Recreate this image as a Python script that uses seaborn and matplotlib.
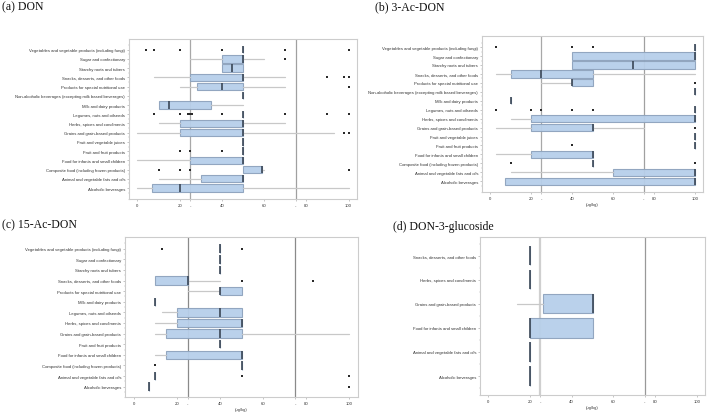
import pandas as pd
import matplotlib
matplotlib.use("Agg")
import matplotlib.pyplot as plt
import seaborn as sns
from matplotlib.ticker import MultipleLocator, FixedLocator

# categorias de alimentos (nombres tal cual aparecen en la figura)
cats_a = ["Vegetables and vegetable products (including fungi)", "Sugar and confectionary",
          "Starchy roots and tubers", "Snacks, desserts, and other foods",
          "Products for special nutritional use",
          "Non-alcoholic beverages (excepting milk based beverages)", "Milk and dairy products",
          "Legumes, nuts and oilseeds", "Herbs, spices and condiments",
          "Grains and grain-based products", "Fruit and vegetable juices",
          "Fruit and fruit products", "Food for infants and small children",
          "Composite food (including frozen products)", "Animal and vegetable fats and oils",
          "Alcoholic beverages"]
cats_b = list(cats_a)
cats_c = ["Vegetables and vegetable products (including fungi)", "Sugar and confectionary",
          "Starchy roots and tubers", "Snacks, desserts, and other foods",
          "Products for special nutritional use", "Milk and dairy products",
          "Legumes, nuts and oilseeds", "Herbs, spices and condiments",
          "Grains and grain-based products", "Fruit and fruit products",
          "Food for infants and small children", "Composite food (including frozen products)",
          "Animal and vegetable fats and oils", "Alcoholic beverages"]
cats_d = ["Snacks, desserts, and other foods", "Herbs, spices and condiments",
          "Grains and grain-based products", "Food for infants and small children",
          "Animal and vegetable fats and oils", "Alcoholic beverages"]

# (a) DON
q1_a = [50, 40, 40, 25, 28, 50, 10, 50, 20, 20, 50, 50, 25, 50, 30, 7]
med_a = [50, 50, 45, 50, 40, 50, 15, 50, 50, 50, 50, 50, 50, 59, 50, 20]
q3_a = [50, 50, 50, 50, 50, 50, 35, 50, 50, 50, 50, 50, 50, 59, 50, 50]
lo_a = [50, 25, 40, 8, 20, 50, 10, 50, 10, 0, 50, 50, 0, 50, 10, 0]
hi_a = [50, 60, 50, 70, 70, 50, 50, 50, 70, 93, 50, 50, 50, 60, 50, 100]
fl_a = [[4, 8, 20, 40, 70, 100], [70], [], [90, 98, 100], [100], [], [],
        [8, 20, 24, 25, 26, 40, 70, 90, 100], [], [98, 100], [], [20, 25, 40], [],
        [10, 20, 25, 100], [], []]

# (b) 3-Ac-DON
q1_b = [100, 40, 40, 10, 40, 100, 10, 100, 20, 20, 100, 100, 20, 50, 60, 7]
med_b = [100, 100, 70, 25, 40, 100, 10, 100, 100, 50, 100, 100, 50, 50, 100, 100]
q3_b = [100, 100, 100, 50, 50, 100, 10, 100, 100, 50, 100, 100, 50, 50, 100, 100]
lo_b = [100, 40, 40, 3, 25, 100, 10, 100, 10, 3, 100, 100, 3, 50, 10, 7]
hi_b = [100, 100, 100, 100, 50, 100, 10, 100, 100, 75, 100, 100, 50, 50, 100, 100]
fl_b = [[3, 40, 50], [], [], [], [100], [], [], [3, 20, 25, 40, 50], [], [100], [],
        [40], [], [10, 100], [], []]

# (c) 15-Ac-DON
q1_c = [40, 40, 40, 10, 40, 10, 20, 20, 15, 40, 15, 50, 10, 7]
med_c = [40, 40, 40, 25, 40, 10, 40, 50, 40, 40, 50, 50, 10, 7]
q3_c = [40, 40, 40, 25, 50, 10, 50, 50, 50, 40, 50, 50, 10, 7]
lo_c = [40, 40, 40, 10, 25, 10, 13, 10, 10, 40, 10, 50, 10, 7]
hi_c = [40, 40, 40, 40, 50, 10, 50, 50, 100, 40, 50, 50, 10, 7]
fl_c = [[13, 50], [], [], [50, 83], [], [], [], [], [], [], [], [10], [50, 100], [100]]

# (d) DON-3-glucoside
q1_d = [20, 20, 26, 20, 20, 20]
med_d = [20, 20, 50, 20, 20, 20]
q3_d = [20, 20, 50, 50, 20, 20]
lo_d = [20, 20, 14, 20, 20, 20]
hi_d = [20, 20, 50, 50, 20, 20]
fl_d = [[], [], [], [], [], []]

sns.set_theme(style="white")
plt.rcParams['font.family'] = ['Liberation Sans', 'DejaVu Sans']

fig = plt.figure(figsize=(7.09, 4.14), dpi=100)


def dibujar_panel(ax, cats, q1, med, q3, lo, hi, fl, pad_top, pad_bot, xlabel=True, lineas=None):
    n = len(cats)
    # lineas verticales de referencia
    if lineas is None:
        lineas = [('#a8a8a8', 0.9), ('#a0a0a0', 0.9)]
    ax.axvline(25, color=lineas[0][0], lw=lineas[0][1], zorder=1)
    ax.axvline(75, color=lineas[1][0], lw=lineas[1][1], zorder=1)

    stats = []
    for i in range(n):
        stats.append(dict(label=cats[i], q1=q1[i], med=med[i], q3=q3[i],
                          whislo=lo[i], whishi=hi[i], fliers=[]))
    ax.bxp(stats, positions=list(range(n)), orientation='horizontal', widths=0.8,
           patch_artist=True, showcaps=False, showfliers=False,
           boxprops=dict(facecolor='#b7cfea', edgecolor='#8ea3bd', linewidth=0.8, alpha=0.95),
           medianprops=dict(color='#3a4656', linewidth=1.2),
           whiskerprops=dict(color='#c8c8c8', linewidth=0.9))

    # puntos atipicos con seaborn
    pts = pd.DataFrame([(v, i) for i, vals in enumerate(fl) for v in vals], columns=['valor', 'pos'])
    if len(pts):
        sns.scatterplot(data=pts, x='valor', y='pos', ax=ax, color='#2a2a2a', s=2.5,
                        marker='s', linewidth=0, legend=False, zorder=5)

    ax.set_ylim(n - 1 + pad_bot, -pad_top)
    ax.set_xlim(-4, 104)
    ax.set_yticks(range(n))
    ax.set_yticklabels(cats)
    ax.yaxis.set_minor_locator(FixedLocator([i - 0.5 for i in range(n + 1)]))
    ax.set_xticks([0, 20, 25, 40, 60, 75, 80, 100])
    ax.set_xticklabels(['0', '20', '-', '40', '60', '-', '80', '100'])
    ax.xaxis.set_minor_locator(MultipleLocator(2))
    ax.tick_params(axis='both', which='major', labelsize=3.1, length=1.6, width=0.4,
                   color='#999999', labelcolor='#333333', pad=1.2)
    ax.tick_params(axis='both', which='minor', length=1.0, width=0.3, color='#aaaaaa')
    ax.tick_params(left=True, bottom=True, which='both')
    for lado in ax.spines.values():
        lado.set_color('#cccccc')
        lado.set_linewidth(0.8)
    ax.set_ylabel('')
    if xlabel:
        ax.set_xlabel('(μg/kg)', fontsize=3.0, color='#333333', labelpad=1.5)
    else:
        ax.set_xlabel('')


W, H = 709, 414


def caja(l, t, r, b):
    return [l / W, 1 - b / H, (r - l) / W, (b - t) / H]


ax_a = fig.add_axes(caja(129, 40, 357, 200))
dibujar_panel(ax_a, cats_a, q1_a, med_a, q3_a, lo_a, hi_a, fl_a, 1.16, 1.19, xlabel=False)
ax_b = fig.add_axes(caja(482, 37, 703, 193))
dibujar_panel(ax_b, cats_b, q1_b, med_b, q3_b, lo_b, hi_b, fl_b, 1.24, 1.2)
ax_c = fig.add_axes(caja(125, 238, 358, 398))
dibujar_panel(ax_c, cats_c, q1_c, med_c, q3_c, lo_c, hi_c, fl_c, 1.1, 0.97,
              lineas=[('#8a8a8a', 0.9), ('#8a8a8a', 0.9)])
ax_d = fig.add_axes(caja(480, 238, 705, 396))
dibujar_panel(ax_d, cats_d, q1_d, med_d, q3_d, lo_d, hi_d, fl_d, 0.78, 0.79,
              lineas=[('#cfcfcf', 1.6), ('#999999', 0.9)])

# titulos de cada panel
titulo = dict(fontsize=8.5, family=['Liberation Serif', 'DejaVu Serif'], color='#111111', va='center', ha='left')
fig.text(2 / W, 1 - 7.5 / H, '(a) DON', **titulo)
fig.text(375 / W, 1 - 7 / H, '(b) 3-Ac-DON', **titulo)
fig.text(2 / W, 1 - 225 / H, '(c) 15-Ac-DON', **titulo)
fig.text(393 / W, 1 - 227 / H, '(d) DON-3-glucoside', **titulo)

fig.savefig('out.png', dpi=100)
plt.close()
